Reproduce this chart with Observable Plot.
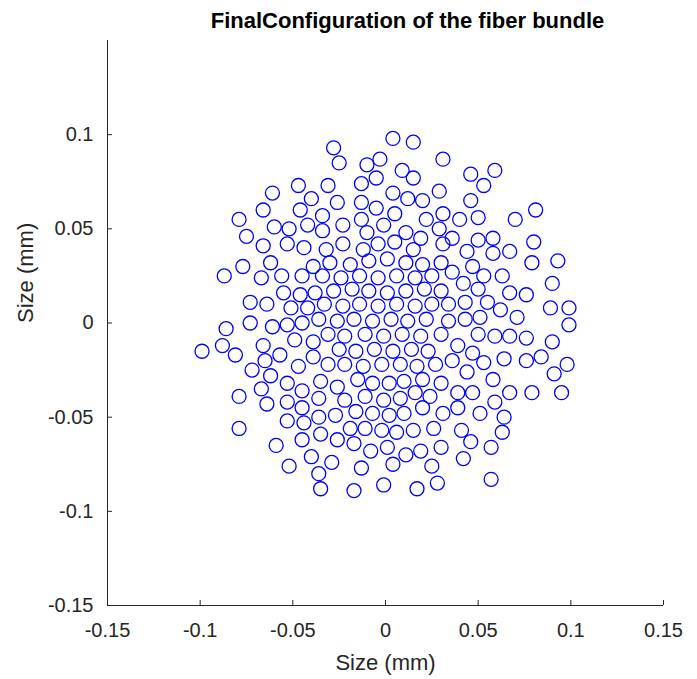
<!DOCTYPE html>
<html><head><meta charset="utf-8">
<script src="https://cdn.jsdelivr.net/npm/d3@7"></script>
<script src="https://cdn.jsdelivr.net/npm/@observablehq/plot@0.6"></script>
<style>body{margin:0;background:#fff;}#chart{width:697px;height:679px;}</style>
</head><body><div id="chart"></div>
<script>
// fiber centres (mm)
const fiberX = [
 0.004,0.015,-0.028,-0.025,-0.003,-0.010,0.031,0.009,0.015,-0.005,
 -0.031,-0.013,-0.047,-0.061,0.046,0.059,0.053,0.004,0.012,0.020,
 0.029,0.046,-0.040,-0.026,-0.013,-0.005,-0.066,-0.046,-0.079,-0.034,
 -0.013,0.005,0.022,0.031,0.040,0.050,0.070,0.081,-0.060,-0.052,
 -0.042,-0.034,-0.023,-0.010,-0.001,0.011,0.019,0.029,0.036,0.050,
 0.058,0.080,-0.075,-0.066,-0.053,-0.044,-0.032,-0.023,-0.012,-0.004,
 0.005,0.015,0.031,0.044,0.058,0.067,0.079,0.093,-0.077,-0.062,
 -0.087,-0.067,-0.056,-0.045,-0.039,-0.055,-0.046,-0.038,-0.073,-0.064,
 -0.051,-0.042,-0.086,-0.073,-0.061,-0.053,-0.045,-0.049,-0.039,-0.099,
 -0.088,-0.081,-0.066,-0.057,-0.065,-0.047,-0.039,-0.072,-0.062,
 0.047,0.036,0.053,0.063,0.042,0.050,0.067,0.076,0.090,0.043,
 0.055,0.062,0.071,0.089,0.099,0.034,0.043,0.051,0.099,0.050,
 0.059,0.067,0.076,0.090,0.039,0.047,0.036,0.053,0.064,0.076,
 0.084,0.044,0.058,0.091,0.098,
 -0.053,-0.067,-0.079,-0.045,-0.064,-0.053,-0.045,-0.036,-0.079,-0.053,
 -0.044,-0.036,-0.045,-0.035,-0.059,-0.040,-0.052,-0.036,-0.035,
 -0.035,-0.026,-0.015,-0.007,0.002,0.010,0.020,0.030,
 -0.022,-0.011,-0.001,0.008,0.016,0.024,
 -0.027,-0.016,-0.007,0.002,0.010,0.020,0.031,
 -0.019,-0.011,-0.002,0.006,0.015,0.026,
 -0.026,-0.017,0.001,-0.008,0.011,0.019,0.030,
 -0.029,-0.013,0.004,0.025,-0.001,0.017,0.028,-0.017,
 0.039,0.047,0.067,0.079,0.095,0.059,0.039,0.051,0.064,0.041,
 0.063,0.046,0.057,0.042,0.057,
 -0.030,-0.019,-0.009,0.001,0.011,0.020,0.030,
 -0.034,-0.024,-0.014,-0.004,0.006,0.016,0.025,
 -0.028,-0.018,-0.009,0.001,0.011,0.021,0.030,
 -0.033,-0.023,-0.014,-0.004,0.006,0.016,0.025,0.034,
 -0.036,-0.026,-0.017,-0.007,0.003,0.012,0.022,
 -0.031,-0.022,-0.011,-0.001,0.009,0.019,0.030,
 -0.025,-0.016,-0.006,0.004,0.014,0.023,
 -0.031,-0.022,-0.012,-0.002,0.008,0.017,0.027
];
const fiberY = [
 0.098,0.096,0.093,0.085,0.087,0.084,0.087,0.081,0.077,0.077,
 0.073,0.074,0.073,0.069,0.079,0.081,0.073,0.069,0.066,0.065,
 0.070,0.065,0.066,0.064,0.064,0.061,0.060,0.060,0.055,0.057,
 0.055,0.058,0.055,0.058,0.055,0.056,0.055,0.060,0.051,0.050,
 0.052,0.049,0.052,0.048,0.052,0.048,0.045,0.050,0.045,0.044,
 0.045,0.043,0.046,0.041,0.042,0.040,0.039,0.042,0.039,0.042,
 0.043,0.039,0.042,0.038,0.037,0.038,0.032,0.033,0.030,0.032,
 0.025,0.024,0.025,0.025,0.030,0.016,0.015,0.016,0.011,0.010,
 0.008,0.008,-0.003,0.000,-0.002,-0.001,0.000,-0.009,-0.010,-0.015,
 -0.012,-0.017,-0.012,-0.017,-0.020,-0.023,-0.018,-0.025,-0.028,
 0.030,0.027,0.025,0.025,0.021,0.018,0.016,0.015,0.021,0.011,
 0.011,0.007,0.003,0.008,0.008,0.001,0.002,0.003,-0.001,-0.006,
 -0.007,-0.007,-0.008,-0.010,-0.012,-0.016,-0.020,-0.021,-0.019,-0.020,
 -0.018,-0.026,-0.030,-0.027,-0.022,
 -0.032,-0.035,-0.039,-0.036,-0.043,-0.042,-0.045,-0.040,-0.056,-0.052,
 -0.053,-0.050,-0.062,-0.059,-0.065,-0.071,-0.076,-0.080,-0.088,
 -0.031,-0.034,-0.030,-0.032,-0.032,-0.031,-0.030,-0.032,
 -0.041,-0.039,-0.041,-0.040,-0.037,-0.039,
 -0.049,-0.047,-0.048,-0.049,-0.048,-0.045,-0.048,
 -0.056,-0.056,-0.057,-0.058,-0.057,-0.056,
 -0.062,-0.064,-0.066,-0.068,-0.070,-0.068,-0.066,
 -0.074,-0.077,-0.075,-0.076,-0.086,-0.088,-0.085,-0.089,
 -0.037,-0.037,-0.037,-0.037,-0.037,-0.042,-0.045,-0.048,-0.050,-0.057,
 -0.058,-0.063,-0.066,-0.072,-0.083,
 0.032,0.031,0.033,0.034,0.032,0.031,0.032,
 0.025,0.024,0.025,0.024,0.025,0.024,0.025,
 0.017,0.018,0.017,0.016,0.017,0.018,0.017,
 0.010,0.009,0.010,0.009,0.010,0.009,0.010,0.010,
 0.002,0.001,0.002,0.001,0.002,0.001,0.002,
 -0.006,-0.007,-0.006,-0.007,-0.006,-0.007,-0.006,
 -0.014,-0.015,-0.014,-0.015,-0.014,-0.015,
 -0.022,-0.022,-0.023,-0.022,-0.022,-0.023,-0.022
];
const xDomain = [-0.15, 0.15];
const yDomain = [-0.15, 0.15];
const xTicks = [-0.15, -0.1, -0.05, 0, 0.05, 0.1, 0.15];
const xTickLabels = ["-0.15", "-0.1", "-0.05", "0", "0.05", "0.1", "0.15"];
const yTicks = [-0.15, -0.1, -0.05, 0, 0.05, 0.1];
const yTickLabels = ["-0.15", "-0.1", "-0.05", "0", "0.05", "0.1"];
const titleText = "FinalConfiguration of the fiber bundle";
const xLabelText = "Size (mm)";
const yLabelText = "Size (mm)";

const fibers = fiberX.map((x, i) => ({x, y: fiberY[i]}));
const W = 697, H = 679, mL = 107, mR = 34, mT = 40, mB = 74;
const frameW = W - mL - mR, frameH = H - mT - mB;
const ink = "#262626";
const font = "'Liberation Sans', Arial, Helvetica, sans-serif";

const chart = Plot.plot({
  width: W, height: H,
  marginLeft: mL, marginRight: mR, marginTop: mT, marginBottom: mB,
  style: {fontFamily: font, background: "#fff", color: ink, overflow: "visible"},
  x: {domain: xDomain},
  y: {domain: yDomain},
  marks: [
    Plot.dot(fibers, {x: "x", y: "y", r: 7, stroke: "#0000ff", strokeWidth: 1.3, fill: "none"}),
    Plot.ruleY([yDomain[0]], {stroke: ink, strokeWidth: 1}),
    Plot.ruleX([xDomain[0]], {stroke: ink, strokeWidth: 1}),
    Plot.ruleX(xTicks, {x: d => d, insetTop: frameH - 5, stroke: ink}),
    Plot.ruleY(yTicks, {y: d => d, insetRight: frameW - 5, stroke: ink}),
    Plot.axisX(xTicks, {tickSize: 0, tickPadding: 17, fontSize: 20, fill: ink,
      tickFormat: d => xTickLabels[xTicks.indexOf(d)], label: null}),
    Plot.axisY(yTicks, {tickSize: 0, tickPadding: 14, fontSize: 20, fill: ink,
      tickFormat: d => yTickLabels[yTicks.indexOf(d)], label: null}),
    Plot.text([titleText], {text: d => d, frameAnchor: "top", lineAnchor: "middle", dx: 22, dy: -20, fontSize: 22, fontWeight: "bold", fill: "#000"}),
    Plot.text([xLabelText], {text: d => d, frameAnchor: "bottom", lineAnchor: "middle", dy: 57, fontSize: 22, fill: ink}),
    Plot.text([yLabelText], {text: d => d, frameAnchor: "left", lineAnchor: "middle", dx: -82, rotate: -90, fontSize: 22, fill: ink})
  ]
});
document.getElementById("chart").append(chart);
</script>
</body></html>
